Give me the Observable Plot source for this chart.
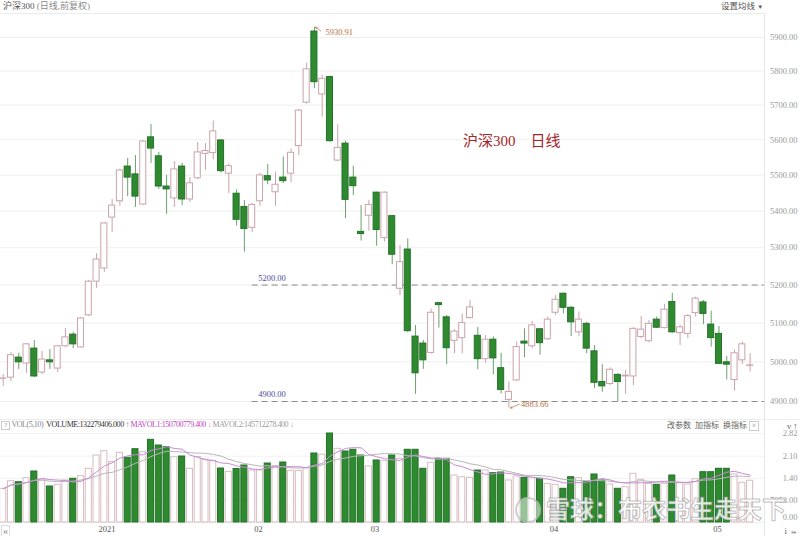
<!DOCTYPE html>
<html><head><meta charset="utf-8">
<script src="https://cdn.jsdelivr.net/npm/d3@7"></script>
<script src="https://cdn.jsdelivr.net/npm/@observablehq/plot@0.6"></script>
<style>
body{margin:0;background:#fff;}
#wrap{position:relative;width:800px;height:536px;overflow:hidden;font-family:"Liberation Serif","Noto Sans CJK SC",serif;}
.abs{position:absolute;white-space:nowrap;line-height:1;}
#price,#vol{position:absolute;left:0;}
#price{top:0;} #vol{top:419px;}
</style></head><body><div id="wrap">
<div id="price"></div><div id="vol"></div>
</div>
<script>
// ---- data (CSI 300 daily, Dec 2020 - May 2021) ----
const opens  = [4957,4960,5011,4996,5034,4973,5004,4983,5040,5070,5037,5120,5209,5244,5382,5427,5524,5502,5418,5607,5553,5468,5435,5524,5432,5491,5560,5562,5598,5504,5448,5411,5354,5427,5497,5452,5493,5504,5582,5707,5918,5731,5782,5541,5589,5493,5343,5387,5451,5326,5386,5190,5295,5065,5047,5023,5152,5115,5054,5061,5113,5067,5007,5057,4984,4904,4953,5052,5040,5084,5058,5127,5177,5140,5076,5098,5027,4949,4944,4967,4963,4963,5064,5053,5109,5087,5155,5074,5072,5126,5154,5096,5072,4999,4954,5004,4990];
const highs  = [4968,5024,5022,5047,5055,5027,5032,5042,5086,5076,5114,5212,5284,5368,5432,5517,5547,5555,5598,5644,5564,5499,5538,5533,5493,5592,5589,5654,5601,5532,5459,5429,5420,5505,5530,5508,5551,5574,5688,5823,5930.91,5787,5785,5643,5596,5525,5415,5429,5452,5453,5388,5306,5324,5094,5055,5137,5154,5120,5083,5124,5159,5089,5068,5064,5022,4949,5051,5085,5104,5085,5116,5172,5178,5143,5129,5102,5042,4993,4985,4970,4978,5088,5117,5107,5116,5149,5178,5094,5122,5168,5159,5131,5091,5014,5031,5051,5021];
const lows   = [4938,4950,4981,4971,4960,4968,4981,4973,5037,5034,5035,5117,5191,5233,5341,5413,5440,5410,5415,5533,5460,5391,5410,5415,5424,5487,5513,5543,5506,5448,5359,5288,5341,5413,5473,5413,5476,5479,5555,5703,5748,5665,5593,5538,5379,5443,5318,5345,5304,5315,5254,5172,5076,4918,4981,5020,5087,4993,5021,5021,5111,4980,4997,4967,4919,4883.66,4950,5011,5034,5017,5055,5120,5124,5065,5064,5021,4932,4923,4940,4900,4918,4940,5060,5049,5086,5085,5074,5042,5060,5116,5096,5038,4993,4954,4926,4993,4974];
const closes = [4958,5017,4999,5045,4963,5006,4999,5040,5063,5045,5112,5209,5268,5366,5415,5513,5493,5440,5595,5575,5468,5460,5516,5432,5477,5564,5568,5624,5511,5525,5376,5351,5417,5499,5485,5473,5483,5563,5684,5805,5767,5777,5596,5577,5431,5469,5337,5417,5348,5451,5281,5261,5079,4971,5004,5127,5147,5035,5078,5100,5141,5007,5057,5009,4929,4924,5038,5047,5094,5048,5109,5161,5140,5102,5109,5034,4947,4938,4980,4949,4965,5085,5083,5098,5088,5135,5076,5089,5118,5164,5124,5061,4995,4993,5022,5045,4991];
// volume in 亿 (1e8)
const volumes = [1.068,1.309,1.277,1.404,1.616,1.362,1.141,1.195,1.331,1.385,
1.467,1.702,2.123,2.259,1.911,2.208,2.050,2.323,2.228,2.620,
2.440,2.386,2.069,2.091,1.702,2.075,1.996,1.955,1.711,1.606,
1.695,1.806,1.648,1.648,1.869,1.790,1.901,1.638,1.638,1.721,
2.186,2.148,2.820,2.335,2.250,2.304,2.123,1.774,1.965,1.955,
2.123,2.018,2.304,2.304,1.702,1.892,2.018,2.018,1.489,1.435,
1.416,1.648,1.648,1.562,1.584,1.331,1.458,1.416,1.404,1.385,
1.226,1.195,1.068,1.435,1.404,1.277,1.521,1.331,1.204,1.068,
1.119,1.543,1.353,1.226,1.195,1.226,1.489,1.245,1.204,1.372,
1.594,1.594,1.702,1.702,1.521,1.258,1.32279406];
const monthTickIdx = [12, 32, 47, 70, 91];
const monthLabels  = ["2021", "02", "03", "04", "05"];
const priceTicks = [4900,5000,5100,5200,5300,5400,5500,5600,5700,5800,5900];
const levelPrices = [5200, 4900];
const levelStartIdx = 32;
const peak = {i: 40, price: 5930.91};
const trough = {i: 65, price: 4883.66};
const volTicks = [0, 0.7053, 1.40, 2.10, 2.82];
const volTickLabels = ["0.00", "7053.00", "1.40", "2.10", "2.82"];

// ---- build ----
const lastIdx = opens.length - 1;
const rows = opens.map((o, i) => ({i, o, h: highs[i], l: lows[i], c: closes[i], v: volumes[i], up: closes[i] >= o}));
const upRows = rows.filter(d => d.up), downRows = rows.filter(d => !d.up);
const levels = levelPrices.map(p => ({price: p, from: levelStartIdx, to: lastIdx}));
const hw = 0.39;
const UP = "#caa3aa", UPV = "#d8bcc0", DN = "#2f8a2f", DNS = "#22722a", DNW = "#6aa26a";
const font = '"Liberation Serif","Noto Sans CJK SC",serif';
const xs = {domain: [0, lastIdx], range: [2.7, 749.6], axis: null};
const volFmt = d => volTickLabels[volTicks.indexOf(d)];

const price = Plot.plot({
  width: 800, height: 419, marginLeft: 0, marginRight: 36, marginTop: 37, marginBottom: 18,
  style: {background: "transparent", fontFamily: font, fontSize: "8.5px"},
  x: xs,
  y: {type: "log", domain: [4900, 5900], axis: null},
  marks: [
    Plot.gridY(priceTicks, {stroke: "#efefef", strokeOpacity: 1}),
    Plot.axisY(priceTicks, {anchor: "right", tickSize: 0, tickPadding: 0, dx: 33, textAnchor: "end",
      tickFormat: d => d.toFixed(2), color: "#9a9a9a"}),
    Plot.ruleY(levels, {y: "price", x1: "from", x2: "to", insetRight: -14.4, stroke: "#8c8c8c", strokeDasharray: "6,4"}),
    Plot.text(levels, {x: "from", y: "price", text: d => d.price.toFixed(2), textAnchor: "start", dx: 6, dy: -7, fill: "#4b4b9e"}),
    Plot.ruleX(upRows, {x: "i", y1: "l", y2: "h", stroke: UP}),
    Plot.ruleX(downRows, {x: "i", y1: "l", y2: "h", stroke: DNW}),
    Plot.rect(upRows, {x1: d => d.i - hw, x2: d => d.i + hw, y1: d => Math.min(d.o, d.c), y2: d => Math.max(d.o, d.c), fill: "#fff", stroke: UP}),
    Plot.rect(downRows, {x1: d => d.i - hw, x2: d => d.i + hw, y1: d => Math.min(d.o, d.c), y2: d => Math.max(d.o, d.c), fill: DN, stroke: DNS}),
    Plot.arrow([peak], {x1: d => d.i + 0.8, y1: d => d.price * 0.9982, x2: d => d.i + 0.15, y2: d => d.price, stroke: "#c27a52", headLength: 3, strokeWidth: 0.8}),
    Plot.text([peak], {x: "i", y: "price", text: d => d.price.toFixed(2), textAnchor: "start", dx: 11, dy: 5, fill: "#b86e3e"}),
    Plot.arrow([trough], {x1: d => d.i + 1.35, y1: d => d.price * 1.002, x2: d => d.i + 0.2, y2: d => d.price, stroke: "#c27a52", headLength: 3, strokeWidth: 0.8}),
    Plot.text([trough], {x: "i", y: "price", text: d => d.price.toFixed(2), textAnchor: "start", dx: 12, dy: -4, fill: "#b86e3e"})
  ]
});
document.getElementById("price").appendChild(price);

const vol = Plot.plot({
  width: 800, height: 117, marginLeft: 0, marginRight: 36, marginTop: 14, marginBottom: 14,
  style: {background: "transparent", fontFamily: font, fontSize: "8.5px"},
  x: xs,
  y: {domain: [0, 2.82], axis: null},
  marks: [
    Plot.gridY(volTicks, {stroke: "#f1f1f1", strokeOpacity: 1}),
    Plot.axisY(volTicks.filter(t => t > 0), {anchor: "right", tickSize: 0, tickPadding: 0, dx: 33, textAnchor: "end",
      tickFormat: volFmt, color: "#9a9a9a"}),
    Plot.axisY(volTicks.filter(t => t === 0), {anchor: "right", tickSize: 0, tickPadding: 0, dx: 33, dy: -5, textAnchor: "end",
      tickFormat: volFmt, color: "#9a9a9a"}),
    Plot.rect(upRows, {x1: d => d.i - hw, x2: d => d.i + hw, y1: 0, y2: "v", fill: "#fff", stroke: UPV}),
    Plot.rect(downRows, {x1: d => d.i - hw, x2: d => d.i + hw, y1: 0, y2: "v", fill: DN, stroke: DNS}),
    Plot.lineY(rows, Plot.windowY({k: 10, anchor: "end"}, {x: "i", y: "v", stroke: "#b8b8b8", strokeWidth: 1})),
    Plot.lineY(rows, Plot.windowY({k: 5, anchor: "end"}, {x: "i", y: "v", stroke: "#c98bd6", strokeWidth: 1})),
    Plot.axisX(monthTickIdx, {anchor: "bottom", tickSize: 0, tickPadding: 3, textAnchor: "start", dx: 2,
      tickFormat: d => monthLabels[monthTickIdx.indexOf(d)], color: "#555"})
  ]
});
document.getElementById("vol").appendChild(vol);

// ---- html chrome ----
const wrap = document.getElementById("wrap");
function add(html, css) { const e = document.createElement("div"); e.className = "abs"; e.innerHTML = html; Object.assign(e.style, css); wrap.appendChild(e); return e; }
add("", {left: "0px", top: "13px", width: "764px", height: "1px", background: "#ececec"});
add("", {left: "764px", top: "13px", width: "1px", height: "523px", background: "#e6e6e6"});
add("", {left: "0px", top: "419px", width: "800px", height: "1px", background: "#ececec"});
add('<span style="color:#555">沪深300</span> <span style="color:#8a8a8a">(日线,前复权)</span>', {left: "3px", top: "2px", fontSize: "9px"});
add('设置均线 <span style="font-size:6px">▼</span>', {left: "721px", top: "2px", fontSize: "8.5px", color: "#555"});
add('沪深300&nbsp;&nbsp;&nbsp;&nbsp;日线', {left: "463px", top: "134px", fontSize: "15px", color: "#a3262a"});
const hdr = '<span style="display:inline-block;border:1px solid #ccc;width:7px;text-align:center;color:#999;font-size:7px;letter-spacing:0">?</span> ' +
  '<span style="color:#888">VOL(5,10)</span>&nbsp;&nbsp;' +
  '<span style="color:#333">VOLUME:' + (volumes[lastIdx] * 1e8).toFixed(3) + '</span> <span style="color:#999">↑</span> ' +
  '<span style="color:#c246c2">MAVOL1:150700779.400</span> <span style="color:#c88ad0">↓</span> ' +
  '<span style="color:#9a9a9a">MAVOL2:145712278.400</span> <span style="color:#aaa">↓</span>';
add(hdr, {left: "1px", top: "421px", fontSize: "8px", letterSpacing: "-0.45px"});
add('改参数&nbsp;&nbsp;加指标&nbsp;&nbsp;换指标 <span style="display:inline-block;border:1px solid #ccc;width:8px;text-align:center;color:#999">×</span>', {left: "667px", top: "421px", fontSize: "8px", color: "#666"});
add('«', {left: "1px", top: "525px", fontSize: "10px", color: "#888", border: "1px solid #ddd", padding: "0 1px"});
add('»', {left: "791px", top: "527px", fontSize: "9px", color: "#888"});
// watermark
add('', {left: "515px", top: "497px", width: "22px", height: "22px", borderRadius: "50%", border: "2px solid rgba(170,170,170,0.55)", background: "rgba(255,255,255,0.5)"});
add('雪球：布衣书生走天下', {left: "546px", top: "496px", fontSize: "24px", fontWeight: "bold", color: "rgba(255,255,255,0.85)", webkitTextStroke: "1px rgba(140,140,140,0.55)", fontFamily: '"Noto Sans CJK SC",sans-serif'});
</script></body></html>
